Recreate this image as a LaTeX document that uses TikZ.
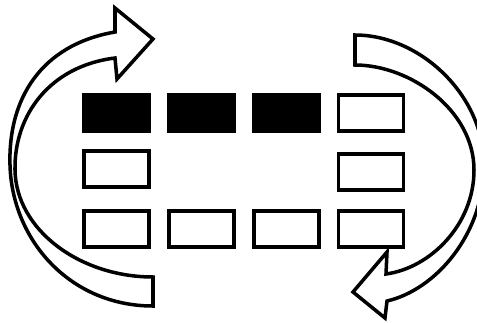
\documentclass[tikz,border=0pt]{standalone}
\usetikzlibrary{positioning}

\tikzset{
  cell/.style={draw, line width=2.2pt, minimum width=1.3cm, minimum height=0.72cm, inner sep=0pt},
  fullcell/.style={cell, fill=black},
  band/.style={draw, fill=white, line width=2pt, line join=miter},
}

\begin{document}
\begin{tikzpicture}[x=0.02cm, y=-0.02cm, node distance=0.32cm]
\useasboundingbox (0,0) rectangle (477,322);

% Arrows
\draw[band] (153,306) .. controls (70,306) and (12,240) .. (10,165)
  .. controls (8,100) and (40,45) .. (115,32) -- (115,8) -- (153,39) -- (117,79) -- (115,58)
  .. controls (50,66) and (14,115) .. (15,170)
  .. controls (16,230) and (80,277) .. (153,277) -- cycle;
\draw[band] (355,35) .. controls (420,35) and (484,95) .. (484,165)
  .. controls (484,235) and (435,290) .. (387,301) -- (385,318) -- (353,292) -- (387,252) -- (386,274)
  .. controls (430,268) and (474,225) .. (474,170)
  .. controls (474,110) and (410,65) .. (355,65) -- cycle;

% Nodes
\node[fullcell] (r1c1) at (116.5,113) {};
\node[fullcell, right=of r1c1] (r1c2) {};
\node[fullcell, right=of r1c2] (r1c3) {};
\node[cell, right=of r1c3] (r1c4) {};

\node[cell, below=of r1c1] (r2c1) {};
\node[cell, below=0.38cm of r1c4] (r2c4) {};

\node[cell, below=0.4cm of r2c1] (r3c1) {};
\node[cell, right=of r3c1] (r3c2) {};
\node[cell, right=of r3c2] (r3c3) {};
\node[cell, right=of r3c3] (r3c4) {};

\end{tikzpicture}
\end{document}
